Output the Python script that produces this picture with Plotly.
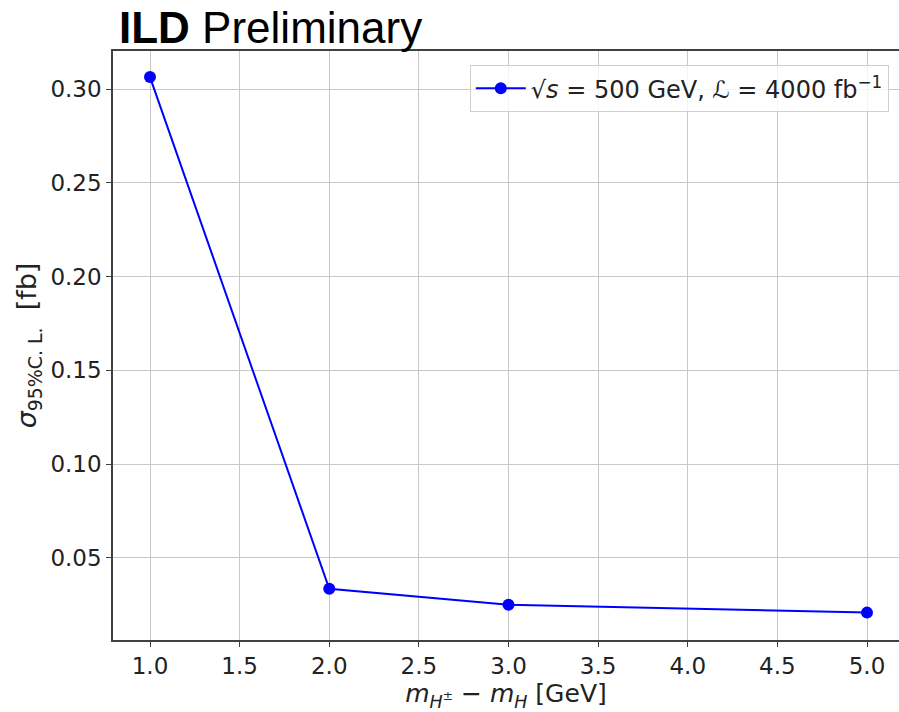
import plotly.graph_objects as go

mass_diff = [1.0, 2.0, 3.0, 5.0]
sigma_95 = [0.3064, 0.0335, 0.0250, 0.0208]
x_ticks = [1.0, 1.5, 2.0, 2.5, 3.0, 3.5, 4.0, 4.5, 5.0]
y_ticks = [0.05, 0.10, 0.15, 0.20, 0.25, 0.30]

font = "DejaVu Sans"

fig = go.Figure()
fig.add_trace(go.Scatter(
    x=mass_diff, y=sigma_95, mode="lines+markers",
    line=dict(color="#0000ff", width=2),
    marker=dict(color="#0000ff", size=12),
    name="√<i>s</i> = 500 GeV, <i>ℒ</i> = 4000 fb<sup>−1</sup>",
    showlegend=True,
))

axis_common = dict(
    showgrid=True, gridcolor="#c8c8c8", gridwidth=1,
    showline=True, linecolor="#404040", linewidth=1.5,
    ticks="outside", ticklen=5, tickwidth=1.2, tickcolor="#404040",
    tickfont=dict(family=font, size=23, color="#222"),
    zeroline=False,
)

fig.update_xaxes(
    range=[0.7936, 5.1785], tickvals=x_ticks,
    ticktext=[f"{v:.1f}" for v in x_ticks], mirror=True,
    title=dict(text="<i>m</i><sub><i>H</i><sup>±</sup></sub> − <i>m</i><sub><i>H</i></sub> [GeV]",
               font=dict(family=font, size=25, color="#222"), standoff=6),
    **axis_common,
)
fig.update_yaxes(
    range=[0.0062, 0.3203], tickvals=y_ticks,
    ticktext=[f"{v:.2f}" for v in y_ticks],
    title=dict(text="<i>σ</i><sub>95%C. L.</sub>  [fb]",
               font=dict(family=font, size=27, color="#222"), standoff=6),
    **axis_common,
)

fig.update_layout(
    width=899, height=712,
    margin=dict(l=113, r=0, t=51, b=72),
    paper_bgcolor="white", plot_bgcolor="white",
    legend=dict(x=0.987, y=0.976, xanchor="right", yanchor="top",
                bgcolor="rgba(255,255,255,0.8)", bordercolor="#d0d0d0", borderwidth=1,
                itemwidth=50,
                font=dict(family=font, size=24, color="#222")),
    annotations=[dict(
        text="<b>ILD</b> Preliminary", xref="paper", yref="paper",
        x=0, y=1, xanchor="left", yanchor="bottom", xshift=4, yshift=-3,
        showarrow=False, font=dict(family="Liberation Sans", size=44, color="black"),
    )],
)

fig.write_html("out.html")
